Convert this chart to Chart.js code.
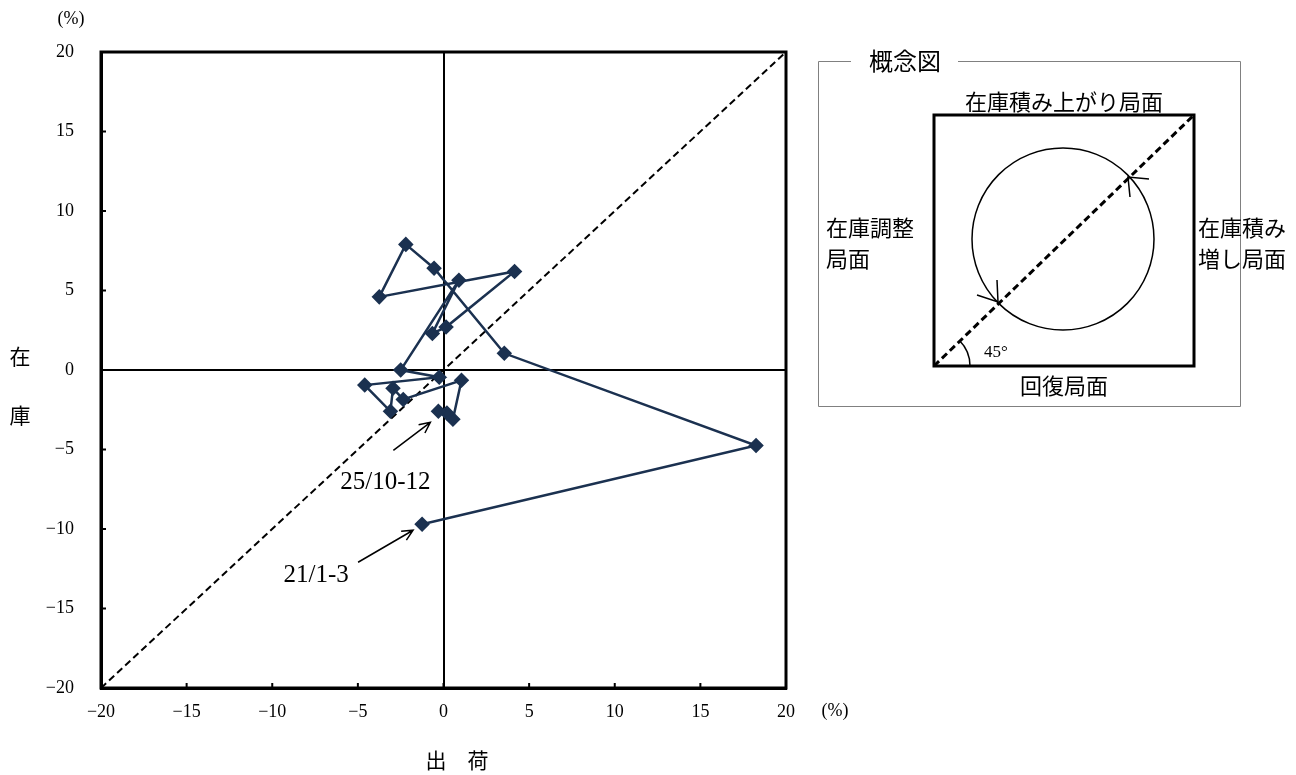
<!DOCTYPE html>
<html>
<head>
<meta charset="utf-8">
<script src="https://cdn.jsdelivr.net/npm/chart.js@4.4.0/dist/chart.umd.min.js"></script>
<style>
  body { margin: 0; background: #fff; }
  #wrap { position: relative; width: 1296px; height: 775px; }
</style>
</head>
<body>
<div id="wrap"><canvas id="grafica" width="1296" height="775"></canvas></div>
<script>
// Datos: periodos trimestrales, 出荷 (eje x) e 在庫 (eje y), variación % interanual
const periodos = ['21/1-3', '21/4-6', '21/7-9', '21/10-12', '22/1-3', '22/4-6', '22/7-9', '22/10-12',
                  '23/1-3', '23/4-6', '23/7-9', '23/10-12', '24/1-3', '24/4-6', '24/7-9', '24/10-12',
                  '25/1-3', '25/4-6', '25/7-9', '25/10-12'];
const shukka = [-1.25, 18.25, 3.55, -0.55, -2.2, -3.75, 4.15, 0.15, -0.65, 0.9,
                -2.5, -0.25, -4.6, -3.1, -2.95, -2.35, 1.05, 0.55, 0.2, -0.3];
const zaiko  = [-9.7, -4.75, 1.05, 6.4, 7.9, 4.6, 6.2, 2.7, 2.3, 5.65,
                0.0, -0.45, -0.95, -2.6, -1.15, -1.85, -0.65, -3.1, -2.7, -2.6];
const ticksEje = [-20, -15, -10, -5, 0, 5, 10, 15, 20];
const diagonal = [-20, 20];

const puntos = periodos.map((p, i) => ({ x: shukka[i], y: zaiko[i] }));
const serif = "'Liberation Serif', 'DejaVu Serif', serif";
const jp = "'Noto Sans CJK JP', sans-serif";

function menos(v) {
    return v < 0 ? '\u2212' + Math.abs(v) : String(v);
}

// Flecha abierta
function flecha(ctx, x1, y1, x2, y2) {
    const a = Math.atan2(y2 - y1, x2 - x1);
    ctx.beginPath();
    ctx.moveTo(x1, y1);
    ctx.lineTo(x2, y2);
    ctx.moveTo(x2 - 12 * Math.cos(a - 0.45), y2 - 12 * Math.sin(a - 0.45));
    ctx.lineTo(x2, y2);
    ctx.lineTo(x2 - 12 * Math.cos(a + 0.45), y2 - 12 * Math.sin(a + 0.45));
    ctx.stroke();
}

const marco = {
    id: 'marco',
    afterDatasetsDraw(chart) {
        const ctx = chart.ctx;
        const a = chart.chartArea;
        const sx = chart.scales.x, sy = chart.scales.y;
        ctx.save();
        // marcas de escala hacia dentro
        ctx.strokeStyle = '#000';
        ctx.lineWidth = 2;
        ticksEje.forEach(v => {
            if (v === -20 || v === 20) return;
            const px = sx.getPixelForValue(v);
            const py = sy.getPixelForValue(v);
            ctx.beginPath();
            ctx.moveTo(px, a.bottom); ctx.lineTo(px, a.bottom - 5);
            ctx.moveTo(a.left, py); ctx.lineTo(a.left + 5, py);
            ctx.stroke();
        });
        // borde del área
        ctx.lineWidth = 3;
        ctx.strokeRect(a.left, a.top, a.right - a.left, a.bottom - a.top);

        // etiquetas con flechas
        const meta = chart.getDatasetMeta(0).data;
        const p0 = meta[0], pN = meta[meta.length - 1];
        ctx.lineWidth = 1.5;
        flecha(ctx, pN.x - 45, pN.y + 39, pN.x - 8, pN.y + 11);
        flecha(ctx, p0.x - 64, p0.y + 38, p0.x - 9, p0.y + 6);
        ctx.fillStyle = '#000';
        ctx.font = '25px ' + serif;
        ctx.textAlign = 'center';
        ctx.textBaseline = 'middle';
        ctx.fillText(periodos[periodos.length - 1], pN.x - 53, pN.y + 71);
        ctx.fillText(periodos[0], p0.x - 106, p0.y + 51);
        ctx.restore();
    },
    afterDraw(chart) {
        const ctx = chart.ctx;
        ctx.save();
        ctx.fillStyle = '#000';
        ctx.textBaseline = 'middle';
        // unidades y títulos de eje
        ctx.font = '18px ' + serif;
        ctx.textAlign = 'center';
        ctx.fillText('(%)', 71, 19);
        ctx.fillText('(%)', 835, 711);
        ctx.font = '21px ' + jp;
        ctx.fillText('在', 20, 356);
        ctx.fillText('庫', 20, 415);
        ctx.fillText('出\u3000荷', 457, 760);

        // 概念図
        ctx.strokeStyle = '#808080';
        ctx.lineWidth = 1;
        ctx.beginPath();
        ctx.moveTo(851, 61.5); ctx.lineTo(818.5, 61.5); ctx.lineTo(818.5, 406.5);
        ctx.lineTo(1240.5, 406.5); ctx.lineTo(1240.5, 61.5); ctx.lineTo(958, 61.5);
        ctx.stroke();
        ctx.font = '24px ' + jp;
        ctx.fillText('概念図', 905, 61);

        ctx.strokeStyle = '#000';
        ctx.lineWidth = 3;
        ctx.strokeRect(934, 115, 260, 251);
        ctx.setLineDash([7, 4]);
        ctx.beginPath();
        ctx.moveTo(934, 366); ctx.lineTo(1194, 115);
        ctx.stroke();
        ctx.setLineDash([]);
        ctx.lineWidth = 1.5;
        ctx.beginPath();
        ctx.arc(1063, 239, 91, 0, Math.PI * 2);
        ctx.stroke();
        // puntas de flecha sobre el círculo
        ctx.beginPath();
        ctx.moveTo(1149, 179); ctx.lineTo(1128, 177); ctx.lineTo(1130, 197);
        ctx.moveTo(977, 295); ctx.lineTo(998, 302); ctx.lineTo(997, 280);
        ctx.stroke();
        // arco de 45°
        ctx.beginPath();
        ctx.arc(934, 366, 36, -Math.PI / 4, 0);
        ctx.stroke();
        ctx.font = '17px ' + serif;
        ctx.fillText('45°', 996, 353);

        ctx.font = '22px ' + jp;
        ctx.fillText('在庫積み上がり局面', 1064, 102);
        ctx.fillText('回復局面', 1064, 386);
        ctx.textAlign = 'left';
        ctx.fillText('在庫調整', 826, 228);
        ctx.fillText('局面', 826, 259);
        ctx.fillText('在庫積み', 1198, 228);
        ctx.fillText('増し局面', 1198, 259);
        ctx.restore();
    }
};

const ctxGrafica = document.getElementById('grafica').getContext('2d');
const grafica = new Chart(ctxGrafica, {
    type: 'scatter',
    data: {
        datasets: [{
            label: '在庫・出荷',
            data: puntos,
            showLine: true,
            borderColor: '#1b3150',
            backgroundColor: '#1b3150',
            borderWidth: 2.5,
            pointStyle: 'rectRot',
            pointRadius: 6,
            order: 0
        }, {
            label: '45度線',
            data: diagonal.map(v => ({ x: v, y: v })),
            showLine: true,
            borderColor: '#000',
            borderWidth: 2,
            borderDash: [7, 4],
            pointRadius: 0,
            order: 1
        }]
    },
    options: {
        responsive: false,
        animation: false,
        devicePixelRatio: 1,
        layout: { padding: { top: 52, right: 510, bottom: 0, left: 0 } },
        plugins: { legend: { display: false }, tooltip: { enabled: false } },
        scales: {
            x: {
                type: 'linear',
                min: -20,
                max: 20,
                afterFit: s => { s.height = 87; },
                afterBuildTicks: s => { s.ticks = ticksEje.map(v => ({ value: v })); },
                ticks: {
                    padding: 13,
                    color: '#000',
                    font: { family: serif, size: 18 },
                    callback: v => menos(v),
                    maxRotation: 0
                },
                grid: {
                    drawTicks: false,
                    lineWidth: 2,
                    color: c => (c.tick && c.tick.value === 0 ? '#000' : 'rgba(0,0,0,0)')
                },
                border: { display: true, color: '#000', width: 3 }
            },
            y: {
                type: 'linear',
                min: -20,
                max: 20,
                afterFit: s => { s.width = 101; },
                afterBuildTicks: s => { s.ticks = ticksEje.map(v => ({ value: v })); },
                ticks: {
                    padding: 27,
                    color: '#000',
                    font: { family: serif, size: 18 },
                    callback: v => menos(v)
                },
                grid: {
                    drawTicks: false,
                    lineWidth: 2,
                    color: c => (c.tick && c.tick.value === 0 ? '#000' : 'rgba(0,0,0,0)')
                },
                border: { display: true, color: '#000', width: 3 }
            }
        }
    },
    plugins: [marco]
});
</script>
</body>
</html>
